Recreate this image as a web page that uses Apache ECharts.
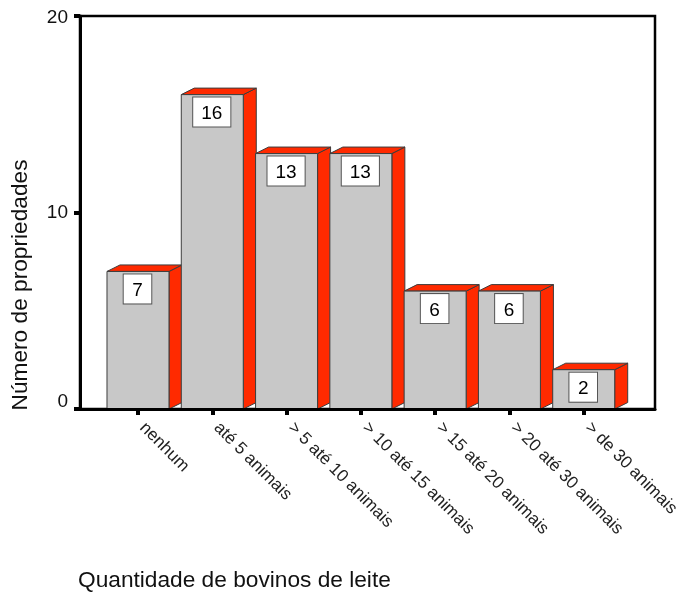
<!DOCTYPE html>
<html>
<head>
<meta charset="utf-8">
<style>html,body{margin:0;padding:0;background:#fff}#c{width:682px;height:592px}</style>
<script src="https://cdn.jsdelivr.net/npm/echarts@6/dist/echarts.min.js"></script>
</head>
<body>
<div id="c"></div>
<script>
// Propriedades por faixa de rebanho leiteiro
const categories = ['nenhum', 'até 5 animais', '> 5 até 10 animais', '> 10 até 15 animais',
  '> 15 até 20 animais', '> 20 até 30 animais', '> de 30 animais'];
const propriedades = [7, 16, 13, 13, 6, 6, 2];
const yTicks = [0, 10, 20];

const FONT = '"Liberation Sans", Arial, sans-serif';
const FACE = '#c8c8c8', SIDE = '#ff2a00', EDGE = '#3c3c3c';
const DEPTH_X = 13, DEPTH_Y = 6.5, FACE_W = 62;

// Barra em falso 3D: frente, topo e lateral, com o rótulo do valor na frente
function renderBar(params, api) {
  const top = api.coord([api.value(0), api.value(1)]);
  const base = api.coord([api.value(0), 0]);
  const l = top[0] - FACE_W / 2, r = top[0] + FACE_W / 2;
  const t = top[1], b = base[1];
  const line = { stroke: EDGE, lineWidth: 1 };
  const text = String(api.value(1));
  return {
    type: 'group',
    children: [
      { type: 'polygon',
        shape: { points: [[r, b], [r + DEPTH_X, b - DEPTH_Y], [r + DEPTH_X, t - DEPTH_Y], [r, t]] },
        style: { fill: SIDE, ...line } },
      { type: 'polygon',
        shape: { points: [[l, t], [l + DEPTH_X, t - DEPTH_Y], [r + DEPTH_X, t - DEPTH_Y], [r, t]] },
        style: { fill: SIDE, ...line } },
      { type: 'rect',
        shape: { x: l, y: t, width: FACE_W, height: b - t },
        style: { fill: FACE, ...line } },
      { type: 'text',
        x: top[0] - 0.5, y: t + 3, z2: 5,
        style: {
          text, align: 'center', verticalAlign: 'top',
          font: '19px ' + FONT, fill: '#000',
          backgroundColor: '#fff', borderColor: '#555', borderWidth: 1,
          padding: text.length > 1 ? [7, 8, 3, 8] : [7, 8.5, 3, 8.5]
        } }
    ]
  };
}

const chart = echarts.init(document.getElementById('c'), null, { renderer: 'canvas' });
chart.setOption({
  animation: false,
  backgroundColor: '#fff',
  grid: [
    { left: 80, top: 16, width: 575, height: 393, outerBoundsMode: 'none', show: true, borderColor: '#000', borderWidth: 2.5, backgroundColor: 'transparent' },
    { left: 100.85, top: 16, width: 520, height: 393, outerBoundsMode: 'none' }
  ],
  xAxis: [
    { type: 'value', gridIndex: 0, min: 0, max: 1, z: 10,
      axisLine: { show: true, onZero: false, lineStyle: { color: '#000', width: 3 } },
      axisTick: { show: false }, axisLabel: { show: false }, splitLine: { show: false } },
    { type: 'category', gridIndex: 1, data: categories,
      axisLine: { show: false },
      axisTick: { show: true, alignWithLabel: true, length: 6, lineStyle: { color: '#000', width: 4 } },
      axisLabel: { rotate: -45, interval: 0, margin: 12, padding: [0, 0, 0, 6], fontFamily: FONT, fontSize: 17.2, color: '#222' },
      splitLine: { show: false } }
  ],
  yAxis: [
    { type: 'value', gridIndex: 0, min: yTicks[0], max: yTicks[2], interval: yTicks[1], z: 10,
      axisLine: { show: true, lineStyle: { color: '#000', width: 3 } },
      axisTick: { show: true, length: 6, lineStyle: { color: '#000', width: 4 } },
      axisLabel: {
        margin: 12,
        formatter: v => v === yTicks[0] ? '{low|' + v + '}' : v === yTicks[2] ? '{high|' + v + '}' : '{mid|' + v + '}',
        rich: {
          low: { fontFamily: FONT, fontSize: 19, color: '#111', padding: [0, 0, 14, 0] },
          mid: { fontFamily: FONT, fontSize: 19, color: '#111' },
          high: { fontFamily: FONT, fontSize: 19, color: '#111', padding: [4, 0, 0, 0] }
        }
      },
      splitLine: { show: false } },
    { type: 'value', gridIndex: 1, min: yTicks[0], max: yTicks[2], show: false, splitLine: { show: false } }
  ],
  graphic: [
    { type: 'text', x: 21, y: 285, rotation: Math.PI / 2, z: 20,
      style: { text: 'Número de propriedades', align: 'center', verticalAlign: 'middle', font: '22.7px ' + FONT, fill: '#111' } },
    { type: 'text', x: 78, y: 581, z: 20,
      style: { text: 'Quantidade de bovinos de leite', align: 'left', verticalAlign: 'middle', font: '22.7px ' + FONT, fill: '#111' } }
  ],
  series: [{
    type: 'custom',
    xAxisIndex: 1, yAxisIndex: 1,
    clip: false,
    renderItem: renderBar,
    encode: { x: 0, y: 1 },
    data: categories.map((c, i) => [i, propriedades[i]])
  }]
});
</script>
</body>
</html>
